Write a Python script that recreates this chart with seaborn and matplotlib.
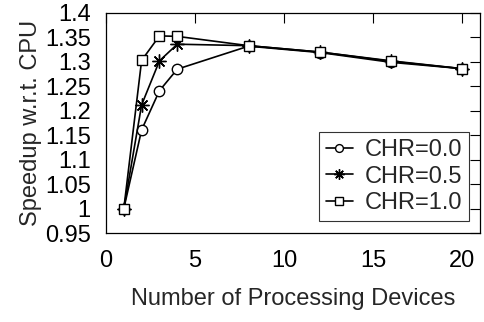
"""Speedup vs. number of processing devices for three CHR values."""

import matplotlib

matplotlib.use("Agg")
import matplotlib.pyplot as plt
import pandas as pd
import seaborn as sns

devices = [1, 2, 3, 4, 8, 12, 16, 20]
speedup_chr00 = [1.0, 1.161, 1.241, 1.285, 1.332, 1.319, 1.299, 1.286]
speedup_chr05 = [1.0, 1.212, 1.302, 1.336, 1.333, 1.320, 1.301, 1.286]
speedup_chr10 = [1.0, 1.303, 1.353, 1.352, 1.333, 1.320, 1.302, 1.286]
series_labels = ["CHR=0.0", "CHR=0.5", "CHR=1.0"]
y_ticks = [0.95, 1.0, 1.05, 1.1, 1.15, 1.2, 1.25, 1.3, 1.35, 1.4]
x_ticks = [0, 5, 10, 15, 20]


def build_frame() -> pd.DataFrame:
    rows = []
    for label, values in zip(series_labels, [speedup_chr00, speedup_chr05, speedup_chr10]):
        for d, v in zip(devices, values):
            rows.append({"devices": d, "speedup": v, "series": label})
    return pd.DataFrame(rows)


def plot(data: pd.DataFrame) -> None:
    sns.set_style("white")
    plt.rcParams["font.family"] = ["Liberation Sans", "DejaVu Sans"]
    fig = plt.figure(figsize=(4.84, 3.22), dpi=100)
    ax = fig.add_axes([0.219, 0.276, 0.773, 0.684])

    markers = {"CHR=0.0": "o", "CHR=0.5": (8, 2, 0), "CHR=1.0": "s"}
    sizes = {"CHR=0.0": 7.5, "CHR=0.5": 10, "CHR=1.0": 7.5}
    for label in series_labels:
        sub = data[data["series"] == label]
        sns.lineplot(
            data=sub, x="devices", y="speedup", ax=ax, color="black",
            linewidth=1.2, marker=markers[label], markersize=sizes[label],
            markerfacecolor="white", markeredgecolor="black",
            markeredgewidth=1.0, label=label,
        )

    ax.set_xlim(0, 21)
    ax.set_ylim(0.95, 1.4)
    ax.set_xticks(x_ticks)
    ax.set_yticks(y_ticks)
    ax.set_yticklabels([f"{t:g}" for t in y_ticks])
    ax.tick_params(direction="in", length=7, width=0.8, top=True, right=True,
                   labelsize=17, colors="black")
    ax.tick_params(axis="y", pad=11)
    ax.tick_params(axis="x", pad=12)
    for spine in ax.spines.values():
        spine.set_color("black")
        spine.set_linewidth(0.9)
    ax.set_xlabel("Number of Processing Devices", fontsize=17, labelpad=12)
    ax.set_ylabel("Speedup w.r.t. CPU", fontsize=17, labelpad=2)

    leg = ax.legend(loc="lower right", bbox_to_anchor=(0.971, 0.055), fontsize=17,
                    frameon=True, fancybox=False, handlelength=1.15,
                    handletextpad=0.5, borderpad=0.3, labelspacing=0.18,
                    borderaxespad=0.0, markerscale=0.75)
    leg.get_frame().set_edgecolor("black")
    leg.get_frame().set_linewidth(0.8)

    fig.savefig("out.png", dpi=100)


plot(build_frame())
